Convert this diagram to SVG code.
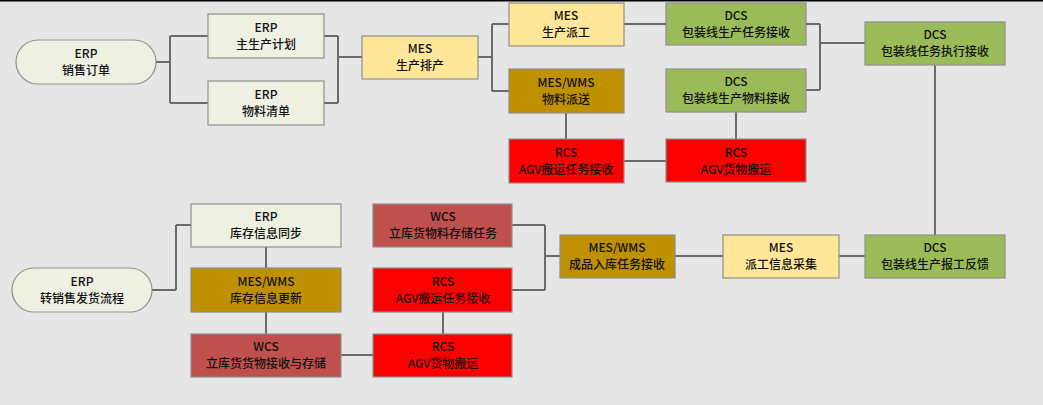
<svg xmlns="http://www.w3.org/2000/svg" width="1043" height="405" viewBox="0 0 1043 405">
<style>
.n{stroke:#8f8f8f;stroke-width:1.2}
.erp{fill:#eef1e1}.mes{fill:#ffe699}.mw{fill:#bf9000}.rcs{fill:#ff0000}.wcs{fill:#c0504d}.dcs{fill:#9bbb59}
text{font-family:"Noto Sans CJK SC","Liberation Sans",sans-serif;font-size:12px;fill:#111;text-anchor:middle;font-weight:500}
#c path{fill:none;stroke:#6a6a6a;stroke-width:2}
</style>
<rect width="1043" height="405" fill="#e6e6e6"/>
<rect width="1043" height="1.5" fill="#000"/>
<g id="c">
<path d="M156 62H170M170 36V103M170 36H208M170 103H208"/>
<path d="M324 36H338M324 103H338M338 36V103M338 57H362"/>
<path d="M478 57H492M492 24V91M492 24H509M492 91H509"/>
<path d="M624 24H666M566 113V139M624 161H666M736 112V139"/>
<path d="M806 24H820M806 90H820M820 24V90M820 43H865"/>
<path d="M935 65V235M839 256H865M675 256H723"/>
<path d="M512 225H545M512 290H545M545 225V290M545 256H560"/>
<path d="M443 312V334M341 355H373M266 247V268M266 312V334"/>
<path d="M152 290H176M176 225V290M176 225H191"/>
</g>
<g id="n1"><rect class="n erp" x="16" y="40" width="140" height="44" rx="22"/><text x="86" y="58">ERP</text><text x="86" y="75">销售订单</text></g>
<g id="n2"><rect class="n erp" x="208" y="14" width="116" height="44"/><text x="266" y="32">ERP</text><text x="266" y="49">主生产计划</text></g>
<g id="n3"><rect class="n erp" x="208" y="81" width="116" height="44"/><text x="266" y="99">ERP</text><text x="266" y="116">物料清单</text></g>
<g id="n4"><rect class="n mes" x="362" y="36" width="116" height="43"/><text x="420" y="53">MES</text><text x="420" y="70">生产排产</text></g>
<g id="n5"><rect class="n mes" x="509" y="3" width="115" height="43"/><text x="566" y="20">MES</text><text x="566" y="37">生产派工</text></g>
<g id="n6"><rect class="n mw" x="509" y="69" width="115" height="44"/><text x="566" y="87">MES/WMS</text><text x="566" y="104">物料派送</text></g>
<g id="n7"><rect class="n rcs" x="509" y="139" width="115" height="44"/><text x="566" y="157">RCS</text><text x="566" y="174">AGV搬运任务接收</text></g>
<g id="n8"><rect class="n dcs" x="666" y="3" width="140" height="42"/><text x="736" y="20">DCS</text><text x="736" y="37">包装线生产任务接收</text></g>
<g id="n9"><rect class="n dcs" x="666" y="69" width="140" height="43"/><text x="736" y="86">DCS</text><text x="736" y="103">包装线生产物料接收</text></g>
<g id="n10"><rect class="n rcs" x="666" y="139" width="140" height="43"/><text x="736" y="157">RCS</text><text x="736" y="174">AGV货物搬运</text></g>
<g id="n11"><rect class="n dcs" x="865" y="22" width="140" height="43"/><text x="935" y="39">DCS</text><text x="935" y="56">包装线任务执行接收</text></g>
<g id="n12"><rect class="n dcs" x="865" y="235" width="140" height="43"/><text x="935" y="252">DCS</text><text x="935" y="269">包装线生产报工反馈</text></g>
<g id="n13"><rect class="n mes" x="723" y="235" width="116" height="43"/><text x="781" y="252">MES</text><text x="781" y="269">派工信息采集</text></g>
<g id="n14"><rect class="n mw" x="560" y="235" width="115" height="43"/><text x="617" y="252">MES/WMS</text><text x="617" y="269">成品入库任务接收</text></g>
<g id="n15"><rect class="n wcs" x="373" y="204" width="139" height="43"/><text x="443" y="221">WCS</text><text x="443" y="238">立库货物料存储任务</text></g>
<g id="n16"><rect class="n rcs" x="373" y="268" width="139" height="44"/><text x="443" y="286">RCS</text><text x="443" y="303">AGV搬运任务接收</text></g>
<g id="n17"><rect class="n rcs" x="373" y="334" width="139" height="43"/><text x="443" y="351">RCS</text><text x="443" y="368">AGV货物搬运</text></g>
<g id="n18"><rect class="n erp" x="191" y="204" width="150" height="43"/><text x="266" y="221">ERP</text><text x="266" y="238">库存信息同步</text></g>
<g id="n19"><rect class="n mw" x="191" y="268" width="150" height="44"/><text x="266" y="286">MES/WMS</text><text x="266" y="303">库存信息更新</text></g>
<g id="n20"><rect class="n wcs" x="191" y="334" width="150" height="43"/><text x="266" y="351">WCS</text><text x="266" y="368">立库货货物接收与存储</text></g>
<g id="n21"><rect class="n erp" x="12" y="268" width="140" height="44" rx="22"/><text x="82" y="286">ERP</text><text x="82" y="303">转销售发货流程</text></g>
</svg>
